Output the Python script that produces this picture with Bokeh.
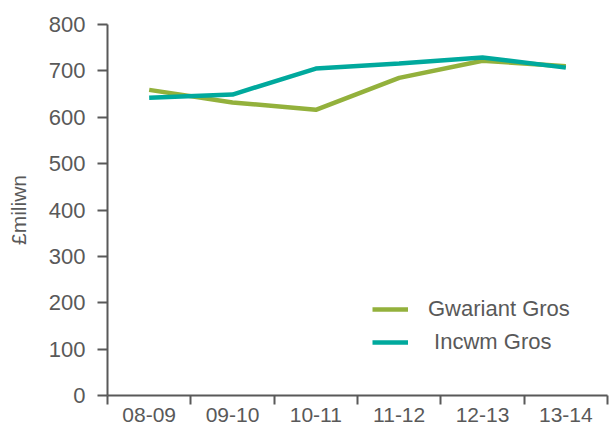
from bokeh.plotting import figure
from bokeh.models import ColumnDataSource, FixedTicker, Legend, LegendItem, Range1d
from bokeh.embed import file_html
from bokeh.resources import INLINE

categories = ["08-09", "09-10", "10-11", "11-12", "12-13", "13-14"]
gwariant = [659, 632, 616, 685, 722, 710]
incwm = [642, 649, 705, 716, 729, 707]
y_ticks = [0, 100, 200, 300, 400, 500, 600, 700, 800]

GREEN = "#93B13C"
TEAL = "#00A99D"
AXIS = "#595959"
FONT = "Liberation Sans"

xpos = [i + 0.5 for i in range(len(categories))]
src = ColumnDataSource(dict(x=xpos, g=gwariant, inc=incwm))

p = figure(width=609, height=425, output_backend="svg", toolbar_location=None,
           x_range=Range1d(0, len(categories)), y_range=Range1d(0, 800),
           min_border_left=107, min_border_right=2, min_border_top=24,
           min_border_bottom=30)
p.outline_line_color = None
p.xgrid.grid_line_color = None
p.ygrid.grid_line_color = None
p.background_fill_color = "white"

r1 = p.line("x", "g", source=src, line_color=GREEN, line_width=4.5)
r2 = p.line("x", "inc", source=src, line_color=TEAL, line_width=4.5)

xa = p.xaxis[0]
xa.ticker = FixedTicker(ticks=xpos, minor_ticks=list(range(len(categories) + 1)))
xa.major_label_overrides = {x: c for x, c in zip(xpos, categories)}
xa.major_tick_out = 0
xa.major_tick_in = 0
xa.minor_tick_out = 9
xa.minor_tick_in = 0
xa.minor_tick_line_color = AXIS
xa.minor_tick_line_width = 2
xa.major_label_standoff = 3

ya = p.yaxis[0]
ya.ticker = FixedTicker(ticks=y_ticks)
ya.major_tick_out = 10
ya.major_tick_in = 0
ya.minor_tick_line_color = None
ya.major_label_standoff = 12
ya.axis_label = "£miliwn"
ya.axis_label_standoff = 16

for ax in (xa, ya):
    ax.axis_line_color = AXIS
    ax.axis_line_width = 2
    ax.major_tick_line_color = AXIS
    ax.major_tick_line_width = 2
    ax.major_label_text_font = FONT
    ax.major_label_text_font_size = "22px"
    ax.major_label_text_color = AXIS
    ax.axis_label_text_font = FONT
    ax.axis_label_text_font_size = "21px"
    ax.axis_label_text_font_style = "normal"
    ax.axis_label_text_color = AXIS
xa.major_label_text_font_size = "21px"

legend = Legend(items=[LegendItem(label="Gwariant Gros", renderers=[r1]),
                       LegendItem(label=" Incwm Gros", renderers=[r2])],
                location=(265, 40), orientation="vertical")
legend.border_line_color = None
legend.background_fill_alpha = 0
legend.padding = 0
legend.spacing = 7
legend.glyph_width = 36
legend.glyph_height = 22
legend.label_height = 22
legend.label_standoff = 20
legend.label_text_font = FONT
legend.label_text_font_size = "22px"
legend.label_text_color = AXIS
legend.margin = 0
p.add_layout(legend, "center")

open("out.html", "w").write(file_html(p, INLINE))
